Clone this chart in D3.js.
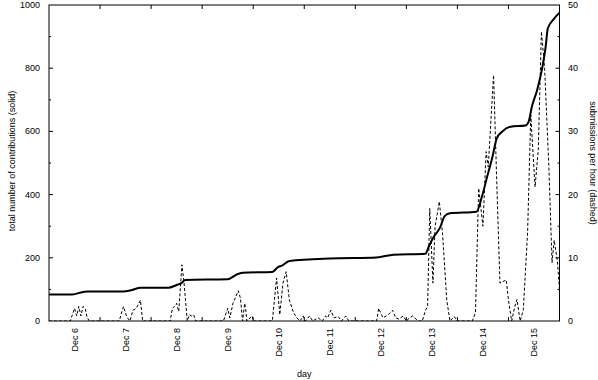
<!DOCTYPE html>
<html>
<head>
<meta charset="utf-8">
<script src="https://cdn.jsdelivr.net/npm/d3@7"></script>
<style>
  body { margin: 0; background: #fff; }
  text { font-family: "Liberation Sans", Arial, sans-serif; font-size: 9px; fill: #000; }
</style>
</head>
<body>
<div class="chart"></div>
<script>
// hours since Dec 6 00:00
const dayLabels = ["Dec 6", "Dec 7", "Dec 8", "Dec 9", "Dec 10", "Dec 11", "Dec 12", "Dec 13", "Dec 14", "Dec 15"];
const leftTicks = [0, 200, 400, 600, 800, 1000];
const rightTicks = [0, 10, 20, 30, 40, 50];

// cumulative contributions (solid)
const totalHours = [0, 11, 16, 18, 35, 39, 43, 56, 60, 62.5, 64, 84, 86, 88.5, 91, 105, 107.5, 109.5, 113, 132,
  154, 162, 177, 178.5, 180.5, 184, 186, 188.5, 201, 203.5, 206, 208.5, 210.5, 213, 217, 224, 225.5, 227, 229.5, 232,
  233.5, 234.5, 237, 240];
const totalValues = [84, 84, 92, 93, 93, 98, 105, 105, 114, 121, 130, 132, 138, 148, 153, 155, 170, 175, 190, 198,
  201, 210, 213, 235, 262, 298, 332, 341, 346, 393, 457, 520, 578, 599, 615, 619, 631, 678, 731, 805,
  868, 926, 953, 976];

// submissions per hour (dashed)
const rateHours = [0, 10, 11, 12, 13, 14, 15, 16, 17, 18, 19,
  33, 35, 36.5, 38, 39.5, 41, 43, 44,
  57, 58, 59, 60, 61, 62.5, 63.5, 65, 66, 67, 68, 69,
  82, 84, 85, 86.5, 89, 90, 91, 92, 92.5, 93, 95.5, 96,
  105, 107, 108.5, 110, 111.5, 113, 115, 116.5, 118, 119.5, 120.5,
  122.5, 124, 126.5, 128.5, 130, 131, 132.5, 134, 136, 137.5, 139.5, 141,
  154, 155, 157, 159.5, 161.5, 163, 164.5, 166.5, 168, 169.5, 171, 173.5,
  175.5, 177, 178, 179, 180.5, 181.5, 183.5, 185, 187, 188.5, 190.5, 192,
  199, 200.5, 202, 204, 205.5, 206.5, 209, 210.5, 212, 215, 216, 217.5, 219, 220, 221.5, 223,
  225, 226.5, 228.5, 230, 231.5, 233, 235, 236.5, 237.5, 239, 240];
const rateValues = [0, 0, 1, 2, 0.8, 2.3, 0.8, 2.3, 2, 0.5, 0,
  0, 2.3, 0.7, 0, 1.7, 2, 3.3, 0,
  0, 2, 2.3, 2.8, 1.5, 8.9, 6, 0, 1, 0.8, 1, 0,
  0, 2, 0.5, 2.8, 4.8, 3.6, 0, 2.8, 1.8, 0, 0.8, 0,
  0, 6.8, 1, 6, 7.8, 3.3, 1.3, 0.5, 0, 0.8, 0,
  0.8, 0, 0.5, 0, 0.8, 0.5, 1.7, 0.5, 0.7, 0, 0.8, 0,
  0, 2, 0.5, 1, 1.7, 0.5, 0.3, 0.8, 0, 0.5, 0.8, 0,
  0, 1.7, 2.3, 17.8, 6, 14.9, 18.9, 13.9, 3.3, 0, 0.7, 0,
  0, 1.3, 21, 15, 26.8, 24.4, 38.9, 22, 6, 6.5, 3.3, 0, 2.3, 3.4, 0, 1.8,
  14, 32.6, 21.2, 27, 45.8, 40, 24.4, 9.2, 12.8, 9.5, 5];

let w = 598, h = 380
  , pLeft = 49, pRight = 559.5, pTop = 5, pBottom = 321

let canvas = d3.select(".chart")
  .append("svg")
  .attr("width", w)
  .attr("height", h)

let x = d3.scaleLinear().domain([0, 240]).range([pLeft, pRight])
let yLeft = d3.scaleLinear().domain([0, 1000]).range([pBottom, pTop])
let yRight = d3.scaleLinear().domain([0, 50]).range([pBottom, pTop])

canvas.append("clipPath").attr("id", "plot")
  .append("rect")
  .attr("x", pLeft).attr("y", pTop)
  .attr("width", pRight - pLeft).attr("height", pBottom - pTop)

// tick marks, pointing inward
let dayEdges = d3.range(1, dayLabels.length).map(function (i) { return i * 24 })
let tickG = canvas.append("g").attr("stroke", "#000").attr("stroke-width", 1)

dayEdges.forEach(function (d) {
  tickG.append("line").attr("x1", x(d)).attr("x2", x(d)).attr("y1", pBottom).attr("y2", pBottom - 4)
  tickG.append("line").attr("x1", x(d)).attr("x2", x(d)).attr("y1", pTop).attr("y2", pTop + 4)
})

d3.range(100, 1000, 100).forEach(function (d) {
  let len = d % 200 === 0 ? 4 : 2
  tickG.append("line").attr("x1", pLeft).attr("x2", pLeft + len).attr("y1", yLeft(d)).attr("y2", yLeft(d))
})

d3.range(5, 50, 5).forEach(function (d) {
  let len = d % 10 === 0 ? 4 : 2
  tickG.append("line").attr("x1", pRight).attr("x2", pRight - len).attr("y1", yRight(d)).attr("y2", yRight(d))
})

// data lines
let plot = canvas.append("g").attr("clip-path", "url(#plot)")

let rateLine = d3.line()
  .x(function (d, i) { return x(rateHours[i]) })
  .y(function (d) { return yRight(d) })

plot.append("path")
  .datum(rateValues)
  .attr("d", rateLine)
  .attr("fill", "none")
  .attr("stroke", "#000")
  .attr("stroke-width", 1)
  .attr("stroke-dasharray", "3,2")

let totalLine = d3.line()
  .x(function (d, i) { return x(totalHours[i]) })
  .y(function (d) { return yLeft(d) })
  .curve(d3.curveMonotoneX)

plot.append("path")
  .datum(totalValues)
  .attr("d", totalLine)
  .attr("fill", "none")
  .attr("stroke", "#000")
  .attr("stroke-width", 2)
  .attr("stroke-linejoin", "round")

// frame
canvas.append("rect")
  .attr("x", pLeft).attr("y", pTop)
  .attr("width", pRight - pLeft).attr("height", pBottom - pTop)
  .attr("fill", "none")
  .attr("stroke", "#000")
  .attr("stroke-width", 1)

// tick labels
canvas.selectAll(".yl")
  .data(leftTicks)
  .enter()
  .append("text")
  .attr("x", 40)
  .attr("y", function (d) { return yLeft(d) + 3 })
  .attr("text-anchor", "end")
  .text(function (d) { return d })

canvas.selectAll(".yr")
  .data(rightTicks)
  .enter()
  .append("text")
  .attr("x", 568)
  .attr("y", function (d) { return yRight(d) + 3 })
  .text(function (d) { return d })

canvas.selectAll(".xl")
  .data(dayLabels)
  .enter()
  .append("text")
  .attr("text-anchor", "end")
  .attr("transform", function (d, i) {
    return "translate(" + (x(i * 24 + 12) + 3) + "," + 328 + ") rotate(-90)"
  })
  .text(function (d) { return d })

// axis titles
canvas.append("text")
  .attr("text-anchor", "middle")
  .attr("x", (pLeft + pRight) / 2)
  .attr("y", 377)
  .text("day")

canvas.append("text")
  .attr("text-anchor", "middle")
  .attr("transform", "translate(15,161) rotate(-90)")
  .text("total number of contributions (solid)")

canvas.append("text")
  .attr("text-anchor", "middle")
  .attr("transform", "translate(590,163) rotate(90)")
  .text("submissions per hour (dashed)")
</script>
</body>
</html>
